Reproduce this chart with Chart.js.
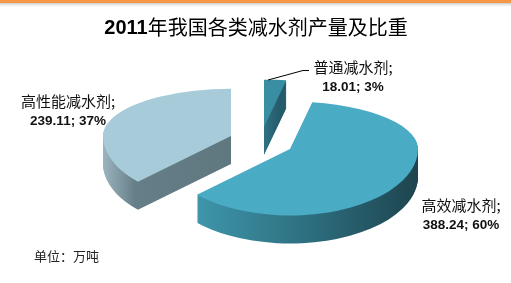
<!DOCTYPE html>
<html>
<head>
<meta charset="utf-8">
<script src="https://cdn.jsdelivr.net/npm/chart.js@4.4.1/dist/chart.umd.min.js"></script>
<style>
  html, body { margin: 0; padding: 0; background: #fff; }
  #wrap { width: 511px; height: 283px; }
</style>
</head>
<body>
<div id="wrap"><canvas id="chart" width="511" height="283"></canvas></div>
<script>
// 数据
const titleYear = '2011';
const titleText = '年我国各类减水剂产量及比重';
const categories = ['普通减水剂', '高效减水剂', '高性能减水剂'];
const values = [18.01, 388.24, 239.11];
const unitText = '单位：万吨';

// 颜色
const topColors = ['#3a8ea4', '#4aabc5', '#a8cbda'];
const sideStops = [
    [[0, '#33798c'], [1, '#245b6a']],
    [[0, '#3f97ac'], [0.45, '#2f7384'], [1, '#1d434d']],
    [[0, '#9bb4be'], [0.25, '#657e87'], [1, '#5f7880']]
];
const sideRange = [[258, 280], [192, 422], [103, 232]];
const labelPos = [[353, 67], [461, 205], [68, 101]];

// 3D 饼图参数
const centerX = 261, centerY = 142;
const explode = 33, explodeTilt = 0.45;
const tiltBack = 0.37, tiltFront = 0.52;
const depth = 28;

const cjkFont = '"Noto Sans CJK SC", "Noto Sans", sans-serif';
const latinFont = '"Liberation Sans", Arial, sans-serif';

function paintArc(chart, arc, ax, ay, fill) {
    const ctx = chart.ctx;
    const W = chart.width, H = chart.height;
    [[0, ay, tiltBack], [ay, H, tiltFront]].forEach(([y0, y1, k]) => {
        ctx.save();
        ctx.beginPath();
        ctx.rect(0, y0, W, y1 - y0);
        ctx.clip();
        ctx.translate(ax, ay);
        ctx.scale(1, k);
        ctx.translate(-arc.x, -arc.y);
        const ghost = Object.create(arc);
        ghost.options = Object.assign({}, arc.options, { backgroundColor: fill, borderWidth: 0 });
        ghost.draw(ctx);
        ctx.restore();
    });
}

const pie3d = {
    id: 'pie3d',
    beforeDraw(chart) {
        const ctx = chart.ctx;
        ctx.save();
        ctx.fillStyle = '#ffffff';
        ctx.fillRect(0, 0, chart.width, chart.height);
        ctx.fillStyle = '#f79646';
        ctx.fillRect(0, 0, chart.width, 3);
        const g = ctx.createLinearGradient(0, 3, 0, 8);
        g.addColorStop(0, '#c9c9c9');
        g.addColorStop(1, 'rgba(255,255,255,0)');
        ctx.fillStyle = g;
        ctx.fillRect(0, 3, chart.width, 5);
        ctx.restore();
    },
    beforeDatasetsDraw(chart) {
        const ctx = chart.ctx;
        const arcs = chart.getDatasetMeta(0).data;
        [2, 0, 1].forEach(idx => {
            const arc = arcs[idx];
            const mid = (arc.startAngle + arc.endAngle) / 2;
            const ax = Math.round(centerX + Math.cos(mid) * explode);
            const ay = Math.round(centerY + Math.sin(mid) * explode * explodeTilt);
            const [x0, x1] = sideRange[idx];
            const grad = ctx.createLinearGradient(x0 - ax + arc.x, 0, x1 - ax + arc.x, 0);
            sideStops[idx].forEach(([p, c]) => grad.addColorStop(p, c));
            for (let i = depth; i >= 1; i--) {
                paintArc(chart, arc, ax, ay + i, grad);
            }
            paintArc(chart, arc, ax, ay, topColors[idx]);
        });
        return false;
    },
    afterDraw(chart) {
        const ctx = chart.ctx;
        ctx.save();
        ctx.textBaseline = 'middle';

        // 标题
        ctx.fillStyle = '#000';
        ctx.font = 'bold 20px ' + latinFont;
        const w1 = ctx.measureText(titleYear).width;
        ctx.font = '20px ' + cjkFont;
        const w2 = ctx.measureText(titleText).width;
        let tx = 256 - (w1 + w2) / 2;
        ctx.textAlign = 'left';
        ctx.font = 'bold 20px ' + latinFont;
        ctx.fillText(titleYear, tx, 28);
        ctx.font = '20px ' + cjkFont;
        ctx.fillText(titleText, tx + w1, 27);

        // 数据标签
        const total = values.reduce((a, b) => a + b, 0);
        ctx.textAlign = 'center';
        categories.forEach((name, i) => {
            const [lx, ly] = labelPos[i];
            ctx.fillStyle = '#111';
            ctx.font = '15px ' + cjkFont;
            ctx.fillText(name + ';', lx, ly);
            ctx.font = 'bold 13.5px ' + latinFont;
            ctx.fillText(values[i].toFixed(2) + '; ' + Math.round(values[i] / total * 100) + '%', lx, ly + 20);
        });

        // 引导线
        ctx.strokeStyle = '#000';
        ctx.lineWidth = 1;
        ctx.beginPath();
        ctx.moveTo(268, 80);
        ctx.lineTo(303, 70.5);
        ctx.lineTo(309, 70.5);
        ctx.stroke();

        // 单位
        ctx.textAlign = 'left';
        ctx.fillStyle = '#222';
        ctx.font = '13px ' + cjkFont;
        ctx.fillText(unitText, 34, 256);
        ctx.restore();
    }
};

new Chart(document.getElementById('chart'), {
    type: 'pie',
    data: {
        labels: categories,
        datasets: [{
            data: values,
            backgroundColor: topColors,
            borderWidth: 0
        }]
    },
    options: {
        responsive: false,
        animation: false,
        radius: 128,
        layout: { padding: 0 },
        plugins: {
            legend: { display: false },
            title: { display: false },
            tooltip: { enabled: false }
        }
    },
    plugins: [pie3d]
});
</script>
</body>
</html>
